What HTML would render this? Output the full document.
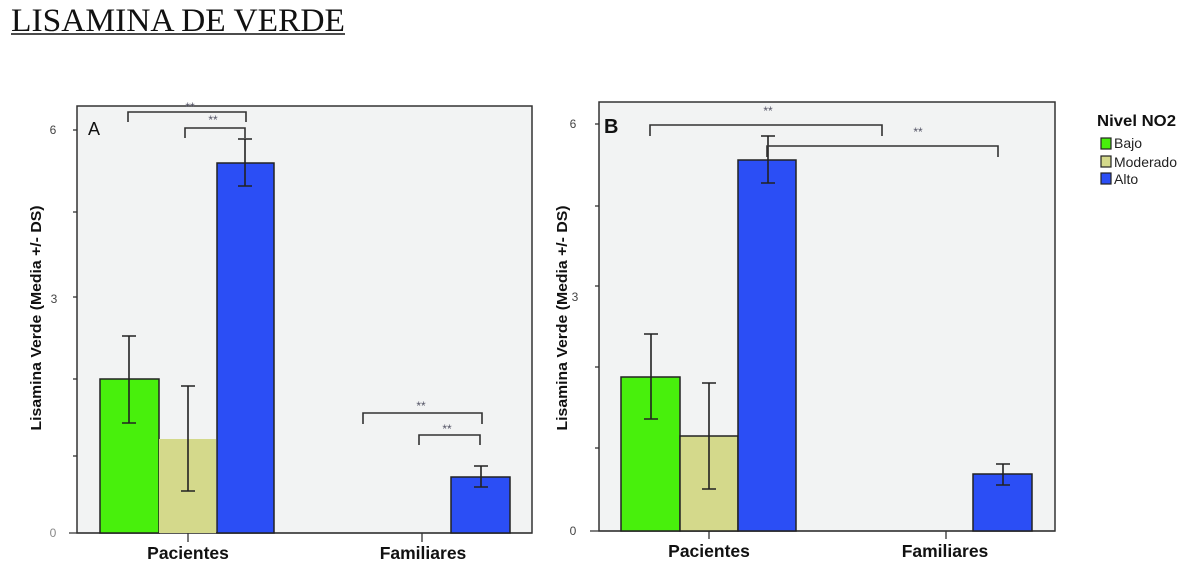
<!DOCTYPE html>
<html>
<head>
<meta charset="utf-8">
<style>
  html,body{margin:0;padding:0;background:#fff;}
  svg{display:block;}
  .sans{font-family:"Liberation Sans",Arial,sans-serif;}
</style>
</head>
<body>
<svg width="1195" height="576" viewBox="0 0 1195 576" xmlns="http://www.w3.org/2000/svg">
  <!-- Title -->
  <text x="11" y="31" font-family="Liberation Serif, serif" font-size="33" fill="#111" textLength="334" lengthAdjust="spacingAndGlyphs">LISAMINA DE VERDE</text>
  <line x1="11" y1="34" x2="345" y2="34" stroke="#111" stroke-width="1.6"/>

  <!-- ============ PANEL A ============ -->
  <rect x="77" y="106" width="455" height="427" fill="#f2f3f3" stroke="#333" stroke-width="1.5"/>
  <g stroke="#333" stroke-width="1.3">
    <line x1="69" y1="533" x2="532" y2="533"/>
    <line x1="73" y1="130" x2="77" y2="130"/>
    <line x1="73" y1="212" x2="77" y2="212"/>
    <line x1="73" y1="297" x2="77" y2="297"/>
    <line x1="73" y1="379" x2="77" y2="379"/>
    <line x1="73" y1="456" x2="77" y2="456"/>
    <line x1="188" y1="533" x2="188" y2="542"/>
    <line x1="422" y1="533" x2="422" y2="542"/>
  </g>
  <g class="sans" font-size="12" fill="#444" text-anchor="middle">
    <text x="53" y="134">6</text>
    <text x="54" y="303">3</text>
    <text x="53" y="537" fill="#888">0</text>
  </g>
  <text x="88" y="135" class="sans" font-size="18" fill="#111">A</text>

  <!-- bars A -->
  <rect x="100" y="379" width="59" height="154" fill="#48f00c" stroke="#222" stroke-width="1.5"/>
  <rect x="159" y="439" width="57" height="94" fill="#d4d98b"/>
  <rect x="217" y="163" width="57" height="370" fill="#2b4ef5" stroke="#222" stroke-width="1.5"/>
  <rect x="451" y="477" width="59" height="56" fill="#2b4ef5" stroke="#222" stroke-width="1.5"/>

  <!-- error bars A -->
  <g stroke="#222" stroke-width="1.6" fill="none">
    <path d="M129 336V423M122 336H136M122 423H136"/>
    <path d="M188 386V491M181 386H195M181 491H195"/>
    <path d="M245 139V186M238 139H252M238 186H252"/>
    <path d="M481 466V487M474 466H488M474 487H488"/>
  </g>

  <!-- brackets A -->
  <g stroke="#333" stroke-width="1.6" fill="none">
    <path d="M128 122V112H246V122"/>
    <path d="M185 138V128H245V138"/>
    <path d="M363 424V413H482V424"/>
    <path d="M419 445V435H480V445"/>
  </g>
  <g class="sans" font-size="12" fill="#556" text-anchor="middle">
    <text x="190" y="111">**</text>
    <text x="213" y="124">**</text>
    <text x="421" y="410">**</text>
    <text x="447" y="433">**</text>
  </g>

  <!-- labels A -->
  <g class="sans" font-weight="bold" font-size="17.5" fill="#111" text-anchor="middle">
    <text x="188" y="559">Pacientes</text>
    <text x="423" y="559">Familiares</text>
  </g>
  <text transform="translate(41,318) rotate(-90)" class="sans" font-weight="bold" font-size="15" fill="#111" text-anchor="middle" textLength="225" lengthAdjust="spacingAndGlyphs">Lisamina Verde (Media +/- DS)</text>

  <!-- ============ PANEL B ============ -->
  <rect x="599" y="102" width="456" height="429" fill="#f2f3f3" stroke="#333" stroke-width="1.5"/>
  <g stroke="#333" stroke-width="1.3">
    <line x1="590" y1="531" x2="1055" y2="531"/>
    <line x1="595" y1="124" x2="599" y2="124"/>
    <line x1="595" y1="206" x2="599" y2="206"/>
    <line x1="595" y1="286" x2="599" y2="286"/>
    <line x1="595" y1="367" x2="599" y2="367"/>
    <line x1="595" y1="448" x2="599" y2="448"/>
    <line x1="709" y1="531" x2="709" y2="539"/>
    <line x1="946" y1="531" x2="946" y2="539"/>
  </g>
  <g class="sans" font-size="12" fill="#444" text-anchor="middle">
    <text x="573" y="128">6</text>
    <text x="575" y="301">3</text>
    <text x="573" y="535">0</text>
  </g>
  <text x="604" y="133" class="sans" font-size="20" font-weight="bold" fill="#111">B</text>

  <!-- bars B -->
  <rect x="621" y="377" width="59" height="154" fill="#48f00c" stroke="#222" stroke-width="1.5"/>
  <rect x="680" y="436" width="58" height="95" fill="#d4d98b" stroke="#222" stroke-width="1.5"/>
  <rect x="738" y="160" width="58" height="371" fill="#2b4ef5" stroke="#222" stroke-width="1.5"/>
  <rect x="973" y="474" width="59" height="57" fill="#2b4ef5" stroke="#222" stroke-width="1.5"/>

  <g stroke="#222" stroke-width="1.6" fill="none">
    <path d="M651 334V419M644 334H658M644 419H658"/>
    <path d="M709 383V489M702 383H716M702 489H716"/>
    <path d="M768 136V183M761 136H775M761 183H775"/>
    <path d="M1003 464V485M996 464H1010M996 485H1010"/>
  </g>

  <g stroke="#333" stroke-width="1.6" fill="none">
    <path d="M650 136V125H882V136"/>
    <path d="M767 157V146H998V157"/>
  </g>
  <g class="sans" font-size="12" fill="#556" text-anchor="middle">
    <text x="768" y="115">**</text>
    <text x="918" y="136">**</text>
  </g>

  <g class="sans" font-weight="bold" font-size="17.5" fill="#111" text-anchor="middle">
    <text x="709" y="557">Pacientes</text>
    <text x="945" y="557">Familiares</text>
  </g>
  <text transform="translate(567,318) rotate(-90)" class="sans" font-weight="bold" font-size="15" fill="#111" text-anchor="middle" textLength="225" lengthAdjust="spacingAndGlyphs">Lisamina Verde (Media +/- DS)</text>

  <!-- Legend -->
  <text x="1097" y="126" class="sans" font-weight="bold" font-size="16" fill="#111" textLength="79" lengthAdjust="spacingAndGlyphs">Nivel NO2</text>
  <rect x="1101" y="138" width="10" height="11" fill="#48f00c" stroke="#222" stroke-width="1.2"/>
  <rect x="1101" y="156" width="10" height="11" fill="#d4d98b" stroke="#222" stroke-width="1.2"/>
  <rect x="1101" y="173" width="10" height="11" fill="#2b4ef5" stroke="#222" stroke-width="1.2"/>
  <g class="sans" font-size="14" fill="#222">
    <text x="1114" y="148">Bajo</text>
    <text x="1114" y="167" textLength="63" lengthAdjust="spacingAndGlyphs">Moderado</text>
    <text x="1114" y="184">Alto</text>
  </g>
</svg>
</body>
</html>
